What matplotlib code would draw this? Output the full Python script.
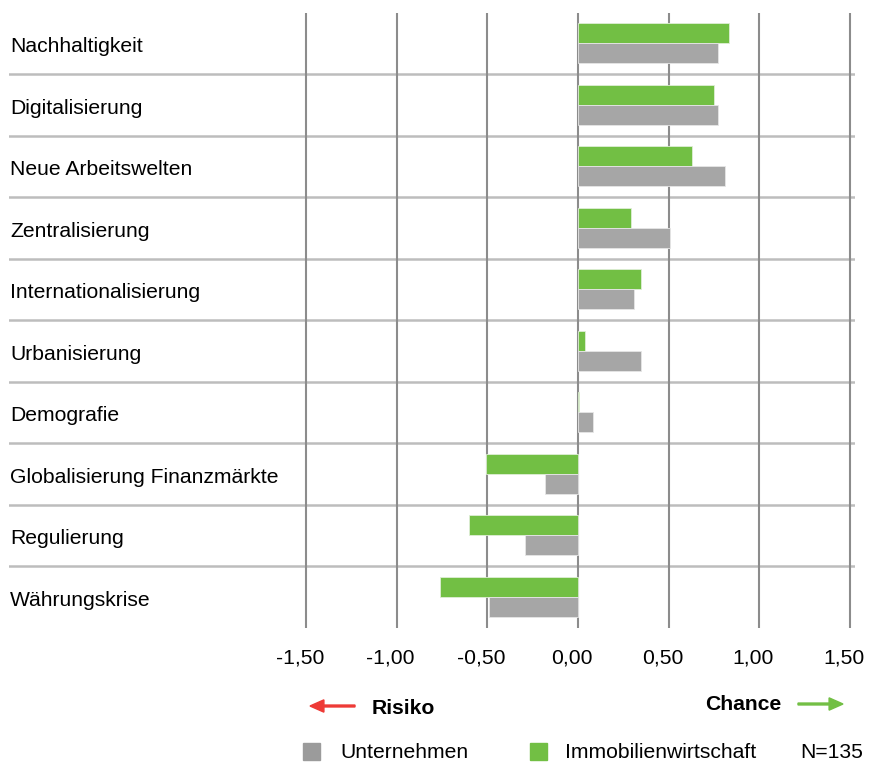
import matplotlib
matplotlib.use('Agg')
import matplotlib.pyplot as plt
import matplotlib.transforms as mtransforms
from matplotlib.patches import Rectangle, FancyArrow

plt.rcParams['font.family'] = ['Liberation Sans', 'DejaVu Sans']

# Daten
kategorien = ['Nachhaltigkeit', 'Digitalisierung', 'Neue Arbeitswelten', 'Zentralisierung',
              'Internationalisierung', 'Urbanisierung', 'Demografie',
              'Globalisierung Finanzmärkte', 'Regulierung', 'Währungskrise']
immobilienwirtschaft = [0.83, 0.75, 0.63, 0.29, 0.35, 0.04, 0.005, -0.51, -0.60, -0.76]
unternehmen = [0.77, 0.77, 0.81, 0.51, 0.31, 0.35, 0.08, -0.18, -0.29, -0.49]
ticks = [-1.5, -1.0, -0.5, 0.0, 0.5, 1.0, 1.5]
tick_labels = ['-1,50', '-1,00', '-0,50', '0,00', '0,50', '1,00', '1,50']

W, H = 869, 769
GRUEN = '#72BF44'
GRAU = '#A6A6A6'
FS = 15.2


def fx(px):
    return px / W


def fy(py):
    return 1 - py / H


fig = plt.figure(figsize=(W / 100, H / 100), dpi=100)
# Achse von x=9 bis 855 px, y=12.5 bis 627.5 px
ax = fig.add_axes([fx(9), fy(627.5), fx(855) - fx(9), fy(12.5) - fy(627.5)])

px_per_unit = (850 - 306) / 3.0
xmin = -1.5 - (306 - 9) / px_per_unit
xmax = 1.5 + (855 - 850) / px_per_unit
ax.set_xlim(xmin, xmax)
ax.set_ylim(len(kategorien) - 0.5, -0.5)

pos = list(range(len(kategorien)))
h = 0.325
ax.barh([p - h / 2 for p in pos], immobilienwirtschaft, height=h, color=GRUEN,
        edgecolor='#dfeed6', linewidth=0.6, zorder=3)
ax.barh([p + h / 2 for p in pos], unternehmen, height=h, color=GRAU,
        edgecolor='#e6e6e6', linewidth=0.6, zorder=3)

# Gitterlinien
for t in ticks:
    ax.axvline(t, color='#8c8c8c', linewidth=1.5, zorder=2)
for i in range(len(kategorien) - 1):
    ax.axhline(i + 0.5, color='#bdbdbd', linewidth=1.8, zorder=1)

for s in ax.spines.values():
    s.set_visible(False)
ax.set_yticks([])
ax.set_xticks(ticks)
ax.set_xticklabels(tick_labels, fontsize=FS)
ax.tick_params(axis='x', length=0, pad=15)
# Beschriftungen leicht nach links versetzt wie im Original
versatz = mtransforms.ScaledTranslation(-0.06, 0, fig.dpi_scale_trans)
for lbl in ax.get_xticklabels():
    lbl.set_transform(lbl.get_transform() + versatz)

# Kategorien links
for i, k in enumerate(kategorien):
    ax.text(xmin + (10 - 9) / px_per_unit, i + 0.06, k, ha='left', va='center', fontsize=FS)

# Risiko / Chance
fig.add_artist(FancyArrow(fx(355), fy(706), fx(310) - fx(355), 0, width=0.0025,
                          head_width=0.016, head_length=0.016, length_includes_head=True,
                          color='#EE3A36', transform=fig.transFigure))
fig.text(fx(372), fy(709), 'Risiko', fontsize=FS, fontweight='bold', ha='left', va='center')
fig.text(fx(781), fy(705), 'Chance', fontsize=FS, fontweight='bold', ha='right', va='center')
fig.add_artist(FancyArrow(fx(798), fy(704), fx(843) - fx(798), 0, width=0.0025,
                          head_width=0.016, head_length=0.016, length_includes_head=True,
                          color=GRUEN, transform=fig.transFigure))

# Legende
fig.add_artist(Rectangle((fx(303), fy(760)), fx(17), fy(743) - fy(760), color='#9B9B9B',
                         transform=fig.transFigure))
fig.text(fx(340), fy(752), 'Unternehmen', fontsize=FS, ha='left', va='center')
fig.add_artist(Rectangle((fx(530), fy(760)), fx(17), fy(743) - fy(760), color=GRUEN,
                         transform=fig.transFigure))
fig.text(fx(565), fy(752), 'Immobilienwirtschaft', fontsize=FS, ha='left', va='center')
fig.text(fx(863), fy(752), 'N=135', fontsize=FS, ha='right', va='center')

fig.savefig('out.png', dpi=100, facecolor='white')
